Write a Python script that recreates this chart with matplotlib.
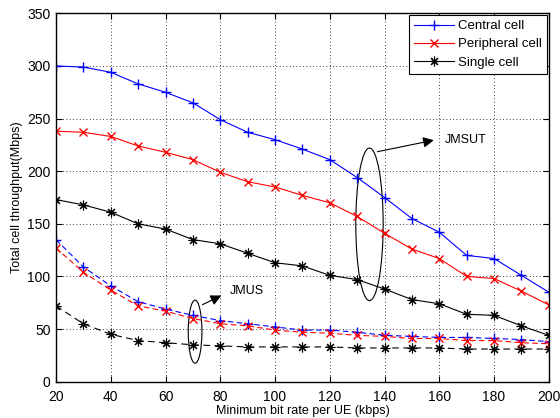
import matplotlib
matplotlib.use("Agg")
import matplotlib.pyplot as plt
from matplotlib.patches import Ellipse

plt.rcParams['font.family'] = ['Liberation Sans', 'DejaVu Sans']

x = [20, 30, 40, 50, 60, 70, 80, 90, 100, 110, 120, 130, 140, 150, 160, 170, 180, 190, 200]

# JMSUT (solid)
central_jmsut = [300, 299, 294, 283, 275, 265, 249, 237, 230, 221, 211, 194, 175, 155, 142, 120, 117, 101, 85]
peripheral_jmsut = [238, 237, 233, 224, 218, 211, 199, 190, 185, 177, 170, 157, 141, 126, 117, 100, 98, 86, 73]
single_jmsut = [173, 168, 161, 150, 145, 135, 131, 122, 113, 110, 101, 97, 88, 78, 74, 64, 63, 53, 44]

# JMUS (dashed)
central_jmus = [135, 109, 91, 76, 69, 63, 58, 55, 52, 49, 49, 47, 44, 43, 42, 42, 41, 40, 38]
peripheral_jmus = [127, 104, 87, 72, 67, 60, 55, 53, 49, 47, 46, 44, 43, 41, 41, 39, 39, 37, 36]
single_jmus = [72, 55, 45, 39, 37, 35, 34, 33, 33, 33, 33, 32, 32, 32, 32, 31, 31, 31, 31]

xticks = [20, 40, 60, 80, 100, 120, 140, 160, 180, 200]
yticks = [0, 50, 100, 150, 200, 250, 300, 350]

fig = plt.figure(figsize=(5.6, 4.18), dpi=100)
ax = fig.add_axes([0.1, 0.087, 0.88, 0.881])

lw = 0.8
ast = (8, 2, 0)
ax.plot(x, central_jmsut, '-', color='b', marker='+', lw=lw, ms=7.5, label='Central cell')
ax.plot(x, peripheral_jmsut, '-', color='r', marker='x', lw=lw, ms=5.5, label='Peripheral cell')
ax.plot(x, single_jmsut, '-', color='k', marker=ast, lw=lw, ms=7, mew=0.8, label='Single cell')
ax.plot(x, central_jmus, color='b', marker='+', lw=lw, ms=7.5, dashes=(5, 3))
ax.plot(x, peripheral_jmus, color='r', marker='x', lw=lw, ms=5.5, dashes=(5, 3))
ax.plot(x, single_jmus, color='k', marker=ast, lw=lw, ms=7, mew=0.8, dashes=(6, 4))

ax.set_xlim(20, 200)
ax.set_ylim(0, 350)
ax.set_xticks(xticks)
ax.set_yticks(yticks)
ax.tick_params(direction='in', top=True, right=True, labelsize=10, length=4)
ax.tick_params(axis='x', pad=6)
ax.tick_params(axis='y', pad=4)
ax.grid(True, linestyle=(0, (1, 3)), color='k', lw=0.6)
for s in ax.spines.values():
    s.set_linewidth(1.0)

ax.set_xlabel('Minimum bit rate per UE (kbps)', fontsize=9, labelpad=1)
ax.set_ylabel('Total cell throughput(Mbps)', fontsize=9, labelpad=3)

# annotations
ax.add_patch(Ellipse((134.5, 149.5), 10, 145, fill=False, ec='k', lw=0.8))
ax.annotate('', xy=(159, 230), xytext=(136.4, 218),
            arrowprops=dict(arrowstyle='-|>', color='k', lw=0.8, mutation_scale=16))
ax.text(162, 230, 'JMSUT', fontsize=9, va='center', ha='left')

ax.add_patch(Ellipse((70.8, 47.5), 5, 60, fill=False, ec='k', lw=0.8))
ax.annotate('', xy=(81.3, 83), xytext=(72.6, 72),
            arrowprops=dict(arrowstyle='-|>', color='k', lw=0.8, mutation_scale=16))
ax.text(83.5, 86.5, 'JMUS', fontsize=9, va='center', ha='left')

leg = ax.legend(loc='upper right', fontsize=9.5, fancybox=False, framealpha=1,
                edgecolor='k', borderaxespad=0.1, handlelength=3.0, labelspacing=0.45,
                borderpad=0.4, handletextpad=0.35)
leg.get_frame().set_linewidth(0.8)

fig.savefig('out.png', dpi=100)
